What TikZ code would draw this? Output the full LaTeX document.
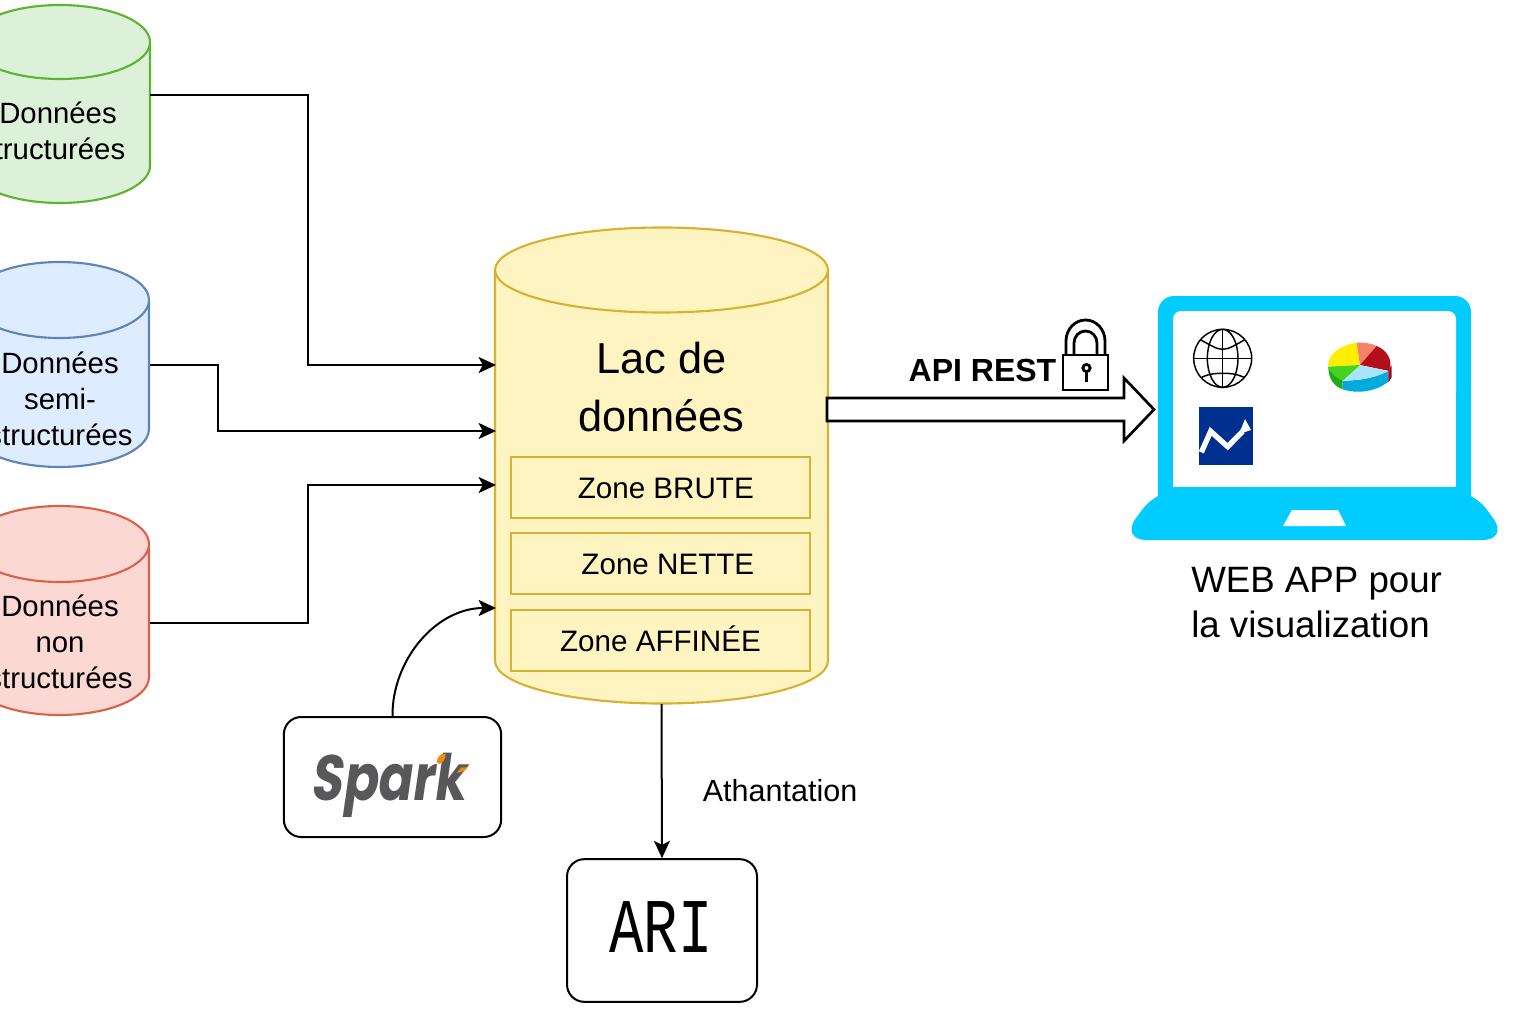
\documentclass[tikz,border=0pt]{standalone}
\usepackage{fontspec}
\setmainfont{Liberation Sans}
\newfontfamily\arimono{Liberation Mono}
\newfontfamily\sparkf[FakeSlant=0.18]{Poppins}
\usetikzlibrary{arrows.meta,calc}
\definecolor{gfill}{HTML}{DDF0DA}\definecolor{gline}{HTML}{5CB531}
\definecolor{bfill}{HTML}{DDEDFF}\definecolor{bline}{HTML}{5F84B8}
\definecolor{rfill}{HTML}{FBD8D3}\definecolor{rline}{HTML}{DB6248}
\definecolor{yfill}{HTML}{FDF4C1}\definecolor{yline}{HTML}{D9B130}
\definecolor{lap}{HTML}{00CCFF}\definecolor{chartb}{HTML}{00308F}
\definecolor{sparkg}{HTML}{58585A}\definecolor{sparko}{HTML}{F08C0C}
\newcommand{\cylshape}[7]{% colours fill,line; L,R,Ytop,Ybot,ry
  \pgfmathsetmacro\crx{(#4-#3)/2}
  \path[fill=#1] (#3,#5) -- (#3,#6) arc[start angle=180,end angle=0,x radius=\crx,y radius=#7] -- (#4,#5) arc[start angle=0,end angle=-180,x radius=\crx,y radius=#7] -- cycle;
  \draw[draw=#2,line width=1.6pt] (#3,#5) -- (#3,#6) arc[start angle=180,end angle=0,x radius=\crx,y radius=#7] -- (#4,#5) arc[start angle=0,end angle=-180,x radius=\crx,y radius=#7] arc[start angle=180,end angle=0,x radius=\crx,y radius=#7];
}
\tikzset{
  conn/.style={draw=black,line width=1.5pt,-{Stealth[length=13pt,width=12pt,inset=3pt]}},
  cyltext/.style={font=\fontsize{22}{27}\selectfont,align=center,inner sep=0pt,text=black},
  zonebox/.style={draw=yline,line width=1.2pt,fill=yfill,minimum width=224pt,minimum height=45.5pt,inner sep=0pt,text height=16pt,text depth=0pt,font=\fontsize{22.2}{26}\selectfont},
  softbox/.style={draw=black,line width=1.5pt,rounded corners=13pt,fill=white,inner sep=0pt},
  globeline/.style={draw=black,line width=1.1pt},
  lockline/.style={draw=black,line width=2.1pt},
}
\begin{document}
\begin{tikzpicture}[x=.75pt,y=-.75pt]
\useasboundingbox (0,0) rectangle (1536,1024);
\clip (0,0) rectangle (1536,1024);
\cylshape{gfill}{gline}{-30}{150}{42}{166}{37}
\cylshape{bfill}{bline}{-30}{149}{300}{429}{38}
\cylshape{rfill}{rline}{-30}{149}{544}{677}{38}
\cylshape{yfill}{yline}{495}{828}{270}{661}{42.5}

\node[cyltext,minimum width=138pt] (d1) at (58,131) {Données\\structurées\hspace*{8pt}};
\node[cyltext,minimum width=134pt] (d2) at (60,399) {Données\\semi-\hspace*{3pt}\\structurées};
\node[cyltext,minimum width=134pt] (d3) at (60,642) {Données\\non\\structurées};
\node[font=\fontsize{32.5}{43}\selectfont,align=center,inner sep=0pt,minimum width=250pt] (lake) at (661.5,387) {Lac de\\données};
\node[zonebox] (z1) at (660.5,487.5) {\hspace{8pt}Zone BRUTE};
\node[zonebox] (z2) at (660.5,563.5) {\hspace{11pt}Zone NETTE};
\node[zonebox] (z3) at (660.5,640.5) {Zone AFFINÉE\hspace{5pt}};

\coordinate (la) at (496,365);
\coordinate (lb) at (496,431);
\coordinate (lc) at (496,485);
\coordinate (ld) at (496,608);
\coordinate (lbot) at (661.5,704);
\coordinate (d1o) at (150,95);
\coordinate (d2o) at (150,365);
\coordinate (d3o) at (150,623);

\node[softbox,minimum width=163pt,minimum height=90pt] (spark) at (392.5,777) {};
\node[softbox,minimum width=142.5pt,minimum height=107pt] (ari) at (662,930.5) {};
\node[inner sep=0pt,font=\arimono\fontsize{58}{58}\selectfont,xscale=.74] (aritext) at (661,927) {ARI};
\node[inner sep=0pt,font=\sparkf\bfseries\fontsize{48}{48}\selectfont,text=sparkg,xscale=.8] (sparktext) at (388,785) {Spark};

\draw[conn] (d1o) -- (308,95) -- (308,365) -- (la);
\draw[conn] (d2o) -- (218,365) -- (218,431) -- (lb);
\draw[conn] (d3o) -- (308,623) -- (308,485) -- (lc);
\draw[conn] (spark.north) .. controls (392,660) and (436,608) .. (ld);
\draw[conn] (lbot) -- (ari.north);
\node[font=\fontsize{22.9}{27}\selectfont,inner sep=0pt] (ath) at (780,791) {Athantation};

% API arrow
\node[font=\bfseries\fontsize{24}{28}\selectfont,inner sep=0pt] (api) at (982.5,370) {API REST};
\draw[line width=2pt,fill=white,line join=miter] (827,398) -- (1124,398) -- (1124,378) -- (1154,409.5) -- (1124,441) -- (1124,421) -- (827,421) -- cycle;

% lock
\draw[lockline,fill=white] (1063,355) rectangle (1108,390);
\draw[lockline] (1066,355) -- (1066,341) arc[start angle=180,end angle=360,x radius=19.5,y radius=21] -- (1105,355);
\draw[lockline] (1074,355) -- (1074,343) arc[start angle=180,end angle=360,x radius=11.5,y radius=12] -- (1097,355);
\draw[lockline] (1086.5,368) circle[radius=3.6];
\draw[lockline] (1086.5,372) -- (1086.5,382);

% laptop
\fill[lap,rounded corners=12pt] (1158,296) rectangle (1471,510);
\fill[lap,rounded corners=20pt] (1158,488) -- (1120,540) -- (1509,540) -- (1471,488) -- cycle;
\fill[white,rounded corners=6pt] (1173,311) rectangle (1456,400);
\fill[white] (1173,330) rectangle (1456,487);
\fill[white] (1292,510) -- (1338,510) -- (1346,526) -- (1283,526) -- cycle;

\begin{scope}[shift={(1130,290)},x=.25pt,y=-.25pt]
  % globe
  \draw[globeline] (278,205) circle[radius=87];
  \draw[globeline] (278,205) ellipse[x radius=46,y radius=87];
  \draw[globeline] (278,118) -- (278,292);
  \draw[globeline] (191,205) -- (365,205);
  \draw[globeline] (213,150) .. controls (240,165) and (260,178) .. (278,178) .. controls (296,178) and (316,165) .. (343,150);
  \draw[globeline] (215,262) .. controls (240,250) and (260,250) .. (278,250) .. controls (296,250) and (316,250) .. (342,262);
  % chart
  \fill[chartb] (206,351) rectangle (368,524);
  \draw[white,line width=4pt,line join=miter] (214,487) -- (242,424) -- (293,470) -- (338,424);
  \fill[white] (345,387) -- (363,420) -- (327,432) -- cycle;
  % pie
  \fill[color={rgb,255:red,36;green,170;blue,24}] (595,230) .. controls (595,265) and (610,288) .. (638,298) -- (638,272) -- cycle;
  \fill[color={rgb,255:red,0;green,170;blue,220}] (638,272) .. controls (690,272) and (740,262) .. (775,243) -- (775,275) .. controls (745,300) and (690,315) .. (638,298) -- cycle;
  \fill[color={rgb,255:red,160;green,15;blue,25}] (775,243) -- (785,225) -- (785,262) -- (775,278) -- cycle;
  \fill[color={rgb,255:red,255;green,238;blue,0}] (690,225) -- (595,230) .. controls (590,195) and (630,165) .. (680,158) -- cycle;
  \fill[color={rgb,255:red,245;green,130;blue,105}] (690,225) -- (680,158) .. controls (700,157) and (725,160) .. (740,168) -- cycle;
  \fill[color={rgb,255:red,178;green,15;blue,25}] (690,225) -- (740,168) .. controls (770,180) and (790,210) .. (778,243) -- cycle;
  \fill[color={rgb,255:red,170;green,228;blue,250}] (690,225) -- (775,243) .. controls (740,262) and (690,272) .. (638,272) -- cycle;
  \fill[color={rgb,255:red,70;green,210;blue,30}] (690,225) -- (638,272) .. controls (615,262) and (600,248) .. (595,230) -- cycle;
\end{scope}

\begin{scope}[shift={(280,710)},x=.25pt,y=-.25pt]
  \fill[sparko] (470,156) .. controls (472,140) and (482,130) .. (497,131) .. controls (498,145) and (490,158) .. (478,162) -- cycle;
  \fill[sparko] (530,188) -- (545,172) -- (563,172) .. controls (558,182) and (545,188) .. (530,188) -- cycle;
\end{scope}

\node[font=\fontsize{27.5}{33.75}\selectfont,align=left,anchor=north west,inner sep=0pt] (web) at (1191,567) {WEB APP pour\\la visualization};
\end{tikzpicture}
\end{document}
